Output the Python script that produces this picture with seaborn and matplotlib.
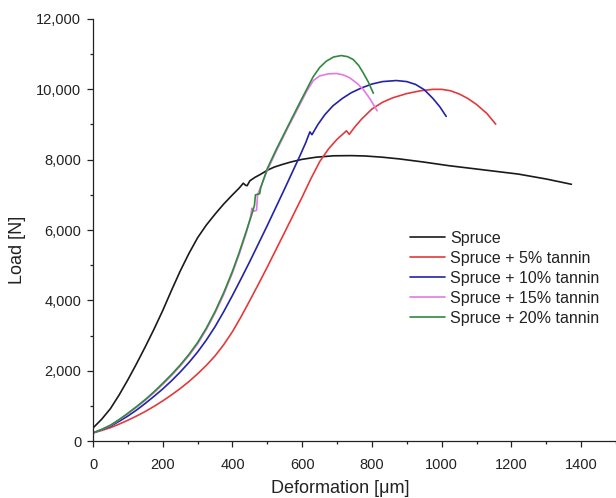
import numpy as np
import pandas as pd
import matplotlib
matplotlib.use("Agg")
import matplotlib.pyplot as plt
import matplotlib.ticker as mticker
import seaborn as sns

# ---- data ----
series_names = ["Spruce", "Spruce + 5% tannin", "Spruce + 10% tannin",
                "Spruce + 15% tannin", "Spruce + 20% tannin"]

spruce_x = [0, 25, 50, 75, 100, 125, 150, 175, 200, 225, 250, 275, 300, 325, 350, 375,
            400, 420, 431, 438, 442, 450, 465, 480, 500, 520, 545, 570, 600, 640, 690,
            740, 780, 830, 880, 950, 1020, 1120, 1220, 1300, 1372]
spruce_y = [370, 620, 920, 1310, 1740, 2200, 2680, 3180, 3710, 4280, 4830, 5330, 5780,
            6140, 6450, 6740, 7000, 7200, 7330, 7270, 7260, 7400, 7500, 7580, 7700, 7790,
            7870, 7940, 8010, 8070, 8110, 8115, 8105, 8070, 8020, 7930, 7830, 7710, 7590,
            7450, 7300]

t5_x = [0, 25, 50, 75, 100, 125, 150, 175, 200, 225, 250, 275, 300, 325, 350, 375, 400,
        425, 450, 475, 500, 550, 600, 625, 650, 675, 700, 727, 735, 750, 770, 800, 830,
        860, 900, 940, 975, 1000, 1025, 1050, 1075, 1100, 1130, 1155]
t5_y = [230, 300, 380, 480, 590, 710, 840, 985, 1140, 1310, 1490, 1690, 1910, 2150, 2420,
        2740, 3110, 3540, 4000, 4470, 4950, 5940, 6940, 7460, 7940, 8300, 8580, 8820, 8720,
        8920, 9150, 9440, 9630, 9760, 9880, 9960, 10000, 10000, 9960, 9870, 9740, 9570,
        9310, 9010]

t10_x = [0, 25, 50, 75, 100, 125, 150, 175, 200, 225, 250, 275, 300, 325, 350, 375, 400,
         425, 450, 500, 550, 593, 610, 622, 628, 645, 665, 688, 715, 740, 770, 800, 830,
         870, 900, 925, 950, 975, 995, 1013]
t10_y = [230, 320, 420, 560, 710, 880, 1070, 1270, 1480, 1710, 1960, 2230, 2530, 2870,
         3250, 3680, 4140, 4620, 5110, 6130, 7180, 8100, 8480, 8790, 8710, 9000, 9280, 9530,
         9740, 9900, 10040, 10150, 10220, 10250, 10220, 10140, 9990, 9740, 9500, 9230]

t15_x = [0, 25, 50, 75, 100, 125, 150, 175, 200, 225, 250, 275, 300, 325, 350, 375, 400,
         420, 440, 452, 456, 459, 469, 472, 480, 500, 526, 560, 593, 613, 632, 650, 675,
         698, 718, 736, 756, 775, 795, 815]
t15_y = [230, 325, 440, 600, 775, 960, 1160, 1375, 1610, 1860, 2130, 2430, 2760, 3170,
         3640, 4170, 4780, 5330, 5930, 6380, 6620, 6530, 6560, 7000, 7200, 7700, 8250, 8930,
         9560, 9950, 10250, 10380, 10440, 10450, 10410, 10330, 10180, 10000, 9720, 9390]

t20_x = [0, 25, 50, 75, 100, 125, 150, 175, 200, 225, 250, 275, 300, 325, 350, 375, 400,
         420, 440, 455, 463, 466, 478, 481, 500, 526, 560, 593, 615, 631, 650, 669, 690,
         712, 730, 746, 762, 775, 790, 804]
t20_y = [230, 330, 450, 610, 790, 980, 1180, 1400, 1640, 1890, 2160, 2460, 2800, 3210,
         3680, 4220, 4830, 5380, 5980, 6430, 6700, 7000, 7030, 7200, 7750, 8300, 8970, 9620,
         10040, 10350, 10620, 10800, 10920, 10960, 10930, 10850, 10680, 10470, 10200, 9890]

x_ticks = [0, 200, 400, 600, 800, 1000, 1200, 1400]
y_ticks = [0, 2000, 4000, 6000, 8000, 10000, 12000]

colors = ["#1a1a1a", "#e23a3c", "#2323a8", "#e37ae3", "#2f8a3c"]

# ---- build long table ----
frames = []
for name, xs, ys in zip(series_names,
                        [spruce_x, t5_x, t10_x, t15_x, t20_x],
                        [spruce_y, t5_y, t10_y, t15_y, t20_y]):
    frames.append(pd.DataFrame({"Deformation": xs, "Load": ys, "Series": name}))
df = pd.concat(frames, ignore_index=True)

sns.set_theme(style="ticks")
plt.rcParams["font.family"] = ["Liberation Sans", "DejaVu Sans"]

fig = plt.figure(figsize=(6.16, 4.98), dpi=100)
ax = fig.add_axes([93 / 616, 57 / 498, 523 / 616, 422 / 498])

sns.lineplot(data=df, x="Deformation", y="Load", hue="Series", hue_order=series_names,
             palette=colors, sort=False, estimator=None, units="Series",
             linewidth=1.2, ax=ax, legend=True)

ax.set_xlim(0, 1500)
ax.set_ylim(0, 12000)
ax.set_xticks(x_ticks)
ax.set_yticks(y_ticks)
ax.xaxis.set_minor_locator(mticker.MultipleLocator(100))
ax.yaxis.set_minor_locator(mticker.MultipleLocator(1000))
ax.yaxis.set_major_formatter(mticker.StrMethodFormatter("{x:,.0f}"))
ax.tick_params(axis="both", which="major", length=4.5, width=0.9, labelsize=10.5,
               color="#222222", labelcolor="#222222", pad=4)
ax.tick_params(axis="x", which="major", pad=8)
ax.tick_params(axis="both", which="minor", length=2.5, width=0.9, color="#222222")
for s in ["top", "right"]:
    ax.spines[s].set_visible(False)
for s in ["left", "bottom"]:
    ax.spines[s].set_linewidth(0.9)
    ax.spines[s].set_color("#222222")

ax.set_xlabel("Deformation [\u03bcm]", fontsize=13, color="#222222")
ax.set_ylabel("Load [N]", fontsize=13, color="#222222")
ax.xaxis.set_label_coords(0.472, -0.092)
ax.yaxis.set_label_coords(-0.128, 0.453)

handles, labels = ax.get_legend_handles_labels()
leg = ax.legend(handles, labels, loc="upper left",
                bbox_to_anchor=(410 / 616, 1 - 231 / 498), bbox_transform=fig.transFigure,
                frameon=False, fontsize=11.5, handlelength=2.2, handletextpad=0.3,
                labelspacing=0.31, borderpad=0, borderaxespad=0)
for line in leg.get_lines():
    line.set_linewidth(1.2)
for t in leg.get_texts():
    t.set_color("#222222")

fig.savefig("out.png", dpi=100)
